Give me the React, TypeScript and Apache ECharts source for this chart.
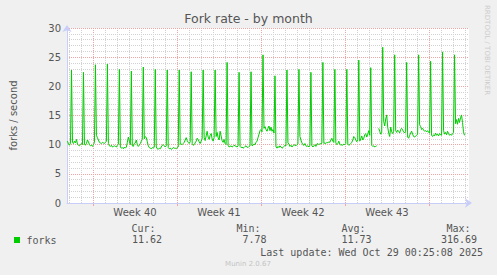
import React, { useEffect, useRef } from "react";
import * as echarts from "echarts";

// Fork rate samples, one row per day, 2-hour steps (forks / second)
const forksByDay: (number | null)[][] = [
  [10.6, 10.1, 9.9, 10.3, 22.8, 10.4, 10.2, 10.6, 10.3, 10.9, 10.1, 9.9],
  [9.8, 10.0, 10.2, 10.0, 22.4, 10.1, 9.9, 10.2, 10.8, 10.5, 10.0, 9.8],
  [9.9, 9.7, 10.0, 10.4, 23.7, 11.6, 11.2, 10.8, 10.4, 10.3, 10.2, 10.4],
  [10.3, 10.2, 10.4, 10.6, 23.8, 10.2, 9.8, 9.7, 9.9, 9.6, 9.7, 9.8],
  [9.7, 9.6, 9.9, 10.1, 22.9, 9.6, 9.4, 9.5, 9.3, 9.6, 9.4, 9.6],
  [10.4, 11.3, 10.6, 10.0, 22.6, 9.8, 9.7, 10.2, 10.3, 10.8, 10.0, 9.7],
  [9.9, 10.2, 10.6, 10.9, 23.3, 11.0, 11.4, 11.2, 10.5, 9.8, 9.5, 9.4],
  [9.3, 9.5, 9.4, 9.6, 22.9, 9.6, 9.3, 9.2, 9.4, 9.3, 9.6, 9.9],
  [10.0, 9.8, 9.6, 9.8, 22.8, 9.5, 9.3, 9.4, 9.2, 9.3, 9.5, 9.4],
  [9.4, 9.3, 9.5, 9.6, 22.8, 10.1, 10.1, 10.0, 10.2, 10.4, 10.8, 11.2],
  [10.7, 10.4, 10.2, 10.5, 22.5, 10.2, 9.9, 10.0, 10.3, 10.6, 11.1, 10.9],
  [10.5, 10.2, 10.6, 11.0, 22.8, 11.2, 10.7, 11.5, 12.3, 11.3, 10.9, 11.6],
  [11.9, 11.0, 10.6, 11.2, 22.8, 11.4, 12.1, 11.2, 10.8, 12.3, 11.5, 10.7],
  [10.4, 10.9, 10.2, 10.0, 24.1, 9.9, 9.6, 9.7, 9.8, 9.6, 9.7, 9.9],
  [9.8, 9.7, 9.6, 9.8, 22.4, 9.7, 9.5, 9.6, 9.4, 9.5, 9.7, 9.8],
  [9.6, 9.5, 9.7, 9.8, 22.5, 9.8, 9.9, 10.1, 10.0, 10.4, 10.6, 11.2],
  [11.8, 12.4, 12.6, 12.2, 25.4, 12.8, 13.1, 12.6, 12.3, 12.8, 13.2, 12.4],
  [13.0, 12.3, 12.6, 12.0, 21.8, 9.6, 9.4, 9.7, 9.5, 9.8, 9.6, 9.4],
  [9.5, 9.7, 9.9, 9.8, 22.8, 10.3, 10.1, 9.7, 9.9, 9.6, 9.8, 10.0],
  [9.9, 9.8, 10.0, 10.1, 22.9, 11.4, 10.8, 10.3, 10.0, 9.9, 10.2, 9.8],
  [9.7, 9.8, 9.6, 9.9, 22.4, 9.8, 9.6, 9.8, 10.0, 9.7, 10.1, 10.2],
  [10.0, 10.2, 10.1, 10.3, 24.1, 10.2, 10.3, 10.2, 10.4, 10.3, 10.5, 10.4],
  [10.8, 11.1, 10.6, 10.4, 22.9, 10.3, 10.0, 10.2, 10.6, 10.1, 9.9, 10.0],
  [9.9, 10.1, 10.0, 10.2, 22.9, 10.1, 9.9, 10.0, 10.2, 10.4, 10.8, 11.4],
  [11.2, 10.8, 10.5, 10.9, 24.5, 10.6, 11.0, 11.5, 10.8, 11.1, 11.7, 11.9],
  [11.3, 11.8, 12.4, 11.6, 23.2, 9.9, 9.7, 9.8, 9.6, 9.7, 9.8, null],
  [12.8, 12.3, 11.8, 12.1, 26.7, 14.0, 13.2, 14.4, 15.1, 13.0, 12.0, 11.4],
  [13.0, 12.2, 11.9, 12.3, 25.4, 12.4, 12.1, 12.5, 12.3, 12.0, 12.6, 12.8],
  [12.5, 12.2, 12.0, 12.3, 24.1, 11.3, 11.1, 11.6, 12.0, 12.3, 11.8, 11.4],
  [11.3, 11.5, 11.6, 11.8, 25.4, 13.4, 13.1, 12.6, 12.8, 12.5, 12.3, 12.4],
  [12.2, 12.4, 12.1, 12.0, 24.3, 11.6, 11.4, 11.7, 11.5, 12.0, 11.6, 11.8],
  [11.5, 11.9, 11.7, 11.6, 25.9, 12.4, 11.8, 12.1, 11.7, 12.3, 11.9, 11.6],
  [11.8, 11.6, 11.9, 12.1, 25.4, 13.6, 14.3, 13.5, 14.5, 13.8, 14.6, 15.1],
  [13.8, 12.2, 11.6],
];

const weekLabels = ["Week 40", "Week 41", "Week 42", "Week 43"];
const statLabels = ["Cur:", "Min:", "Avg:", "Max:"];
const statValues = ["11.62", "7.78", "11.73", "316.69"];
const seriesName = "forks";
const titleText = "Fork rate - by month";
const yAxisName = "forks / second";
const lastUpdate = "Last update: Wed Oct 29 00:25:08 2025";
const footer = "Munin 2.0.67";
const sideText = "RRDTOOL / TOBI OETIKER";

const SANS = "DejaVu Sans";
const MONO = "DejaVu Sans Mono";
const TXT = "#555555";
const RED = "#f0a4a4";
const GRAY = "#d2d2d2";
const AXIS = "#c8cef8";

export default function App() {
  const ref = useRef<HTMLDivElement>(null);

  useEffect(() => {
    if (!ref.current) return;
    const chart = echarts.init(ref.current, undefined, { renderer: "svg" });

    const samples = forksByDay.flat();
    const lineData = samples.map((v, i) => [i + 0.5, v]);

    const gridTop = 28;
    const gridH = 175;

    const labelX = [131.5, 236.5, 341.5, 446.5];
    const valueRight = [162, 266.5, 371.5, 477];

    const graphics: any[] = [
      {
        type: "rect",
        shape: { x: 14, y: 237, width: 6, height: 6 },
        style: { fill: "#00CC00" },
      },
      {
        type: "text",
        x: 26.5,
        y: 240,
        style: { text: seriesName, fill: TXT, fontSize: 10, fontFamily: MONO, verticalAlign: "middle", align: "left" },
      },
      ...statLabels.map((t, i) => ({
        type: "text",
        x: labelX[i],
        y: 228,
        style: { text: t, fill: TXT, fontSize: 10, fontFamily: MONO, verticalAlign: "middle", align: "left" },
      })),
      ...statValues.map((t, i) => ({
        type: "text",
        x: valueRight[i],
        y: 239.5,
        style: { text: t, fill: TXT, fontSize: 10, fontFamily: MONO, verticalAlign: "middle", align: "right" },
      })),
      {
        type: "text",
        x: 483,
        y: 252,
        style: { text: lastUpdate, fill: TXT, fontSize: 10, fontFamily: MONO, verticalAlign: "middle", align: "right" },
      },
      {
        type: "text",
        x: 248,
        y: 264,
        style: { text: footer, fill: "#c4c4c4", fontSize: 7, fontFamily: SANS, verticalAlign: "middle", align: "center" },
      },
      {
        type: "text",
        x: 487,
        y: 5,
        rotation: -Math.PI / 2,
        style: { text: sideText, fill: "#cccccc", fontSize: 7, fontFamily: SANS, verticalAlign: "middle", align: "left" },
      },
    ];

    const option: any = {
      animation: false,
      backgroundColor: "#F0F0F0",
      title: {
        text: titleText,
        left: "center",
        top: 7,
        textStyle: { fontSize: 12.5, fontWeight: "normal", color: TXT, fontFamily: SANS },
      },
      grid: [
        { left: 66, top: gridTop, width: 403, height: gridH, show: true, backgroundColor: "#ffffff", borderWidth: 0 },
        { left: 69, top: gridTop, width: 396, height: gridH, show: false },
        { left: 93, top: gridTop, width: 336, height: gridH, show: false },
      ],
      xAxis: [
        {
          gridIndex: 0,
          type: "value",
          min: 0,
          max: 403,
          axisLine: {
            show: true,
            symbol: ["none", "arrow"],
            symbolSize: [7, 7],
            symbolOffset: [0, 3],
            lineStyle: { color: AXIS, width: 1 },
          },
          axisTick: { show: false },
          axisLabel: { show: false },
          splitLine: { show: false },
          z: 5,
        },
        {
          gridIndex: 1,
          type: "value",
          min: 0,
          max: 33,
          interval: 1,
          axisLine: { show: false },
          axisTick: { show: false },
          axisLabel: { show: false },
          splitLine: { show: true, lineStyle: { color: GRAY, type: [1, 1], width: 1 } },
          z: 1,
        },
        {
          gridIndex: 2,
          type: "category",
          data: weekLabels,
          boundaryGap: true,
          axisLine: { show: false },
          axisTick: { show: true, interval: 0, length: 3, lineStyle: { color: RED } },
          axisLabel: { show: true, interval: 0, color: TXT, fontSize: 10, fontFamily: SANS, margin: 4 },
          splitLine: { show: true, interval: 0, lineStyle: { color: RED, type: [1, 1], width: 1 } },
          z: 2,
        },
      ],
      yAxis: [
        {
          gridIndex: 0,
          type: "value",
          min: 0,
          max: 30,
          interval: 5,
          name: yAxisName,
          nameLocation: "middle",
          nameRotate: 90,
          nameGap: 49,
          nameTextStyle: { color: TXT, fontSize: 10, fontFamily: SANS },
          axisLine: {
            show: true,
            symbol: ["none", "arrow"],
            symbolSize: [7, 7],
            symbolOffset: [0, 3],
            lineStyle: { color: AXIS, width: 1 },
          },
          axisTick: { show: false },
          axisLabel: { color: TXT, fontSize: 10, fontFamily: SANS, margin: 6 },
          splitLine: { show: true, lineStyle: { color: RED, type: [1, 1], width: 1 } },
          minorTick: { show: false, splitNumber: 5 },
          minorSplitLine: { show: true, lineStyle: { color: GRAY, type: [1, 1], width: 1 } },
          z: 3,
        },
        { gridIndex: 1, type: "value", min: 0, max: 1, show: false, splitLine: { show: false } },
        { gridIndex: 2, type: "value", min: 0, max: 1, show: false, splitLine: { show: false } },
      ],
      series: [
        {
          name: seriesName,
          type: "line",
          xAxisIndex: 0,
          yAxisIndex: 0,
          data: lineData,
          showSymbol: false,
          symbol: "none",
          connectNulls: false,
          lineStyle: { color: "#00CC00", width: 1 },
          itemStyle: { color: "#00CC00" },
          z: 10,
        },
      ],
      graphic: graphics,
    };

    chart.setOption(option);
    return () => chart.dispose();
  }, []);

  return (
    <div
      ref={ref}
      style={{ position: "fixed", left: 0, top: 0, width: 497, height: 275 }}
    />
  );
}
